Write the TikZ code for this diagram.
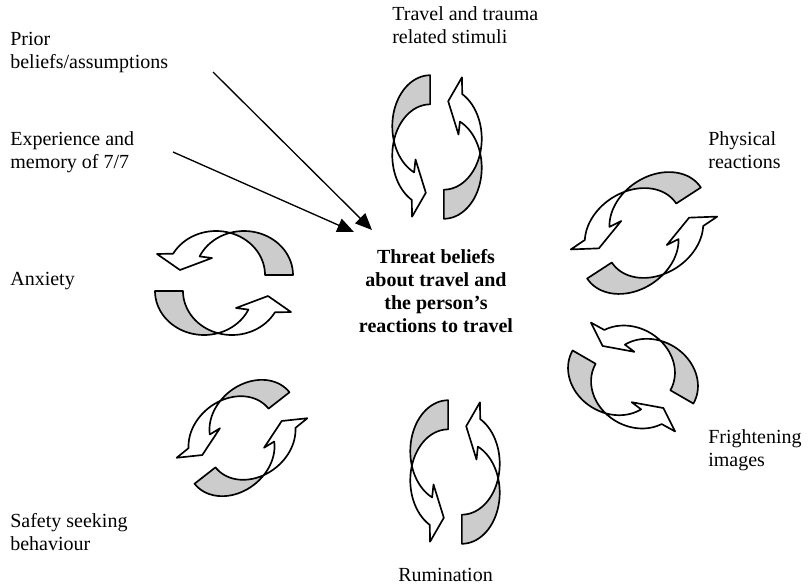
\documentclass[tikz,border=0pt]{standalone}
\usepackage{fontspec}
\setmainfont{Liberation Serif}
\usepackage{tikz}
\usetikzlibrary{arrows.meta,calc,positioning}

\tikzset{
  backface/.style={fill=black!20,draw=black,line width=1pt,line join=round},
  frontface/.style={fill=white,draw=black,line width=1pt,line join=round},
  lbl/.style={anchor=north west,inner sep=0pt,align=left,font=\fontsize{12}{13.8}\selectfont},
  conn/.style={-{Triangle[length=10pt,width=8.5pt]},line width=0.8pt},
  loopicon/.pic={
    \foreach \r in {0,180}{
      \begin{scope}[rotate=\r]
        \draw[backface] plot[smooth,domain=0:73.4,variable=\t] ({-8+49*cos(\t)},{-8-44*sin(\t)})
          -- plot[smooth,domain=106.6:0,variable=\t] ({20+49*cos(\t)},{-8-44*sin(\t)}) -- cycle;
        \draw[frontface] plot[smooth,domain=73.4:151,variable=\t] ({-8+49*cos(\t)},{-8-44*sin(\t)})
          -- (-67,-29) -- (-44,-13) -- (-12,-25)
          -- plot[smooth,domain=155:106.6,variable=\t] ({20+49*cos(\t)},{-8-44*sin(\t)}) -- cycle;
      \end{scope}
    }
  }
}

\begin{document}
\begin{tikzpicture}[x=0.6pt,y=-0.6pt]
\useasboundingbox (0,0) rectangle (809,587);
\node[lbl] (prior) at (10,29) {\strut Prior\\beliefs/assumptions};
\node[lbl] (experience) at (10,129) {\strut Experience and\\memory of 7/7};
\node[lbl] (anxiety) at (10,269) {\strut Anxiety};
\node[lbl] (safety) at (10,511) {\strut Safety seeking\\behaviour};
\node[lbl] (travel) at (392,4) {\strut Travel and trauma\\related stimuli};
\node[lbl] (physical) at (708,129) {\strut Physical\\reactions};
\node[lbl] (frightening) at (708,427) {\strut Frightening\\images};
\node[lbl] (rumination) at (398,565) {\strut Rumination};
\node[lbl,anchor=north,align=center,font=\fontsize{12}{13.8}\selectfont\bfseries] (threat) at (436,247)
  {\strut Threat beliefs\\about travel and\\the person’s\\reactions to travel};
\pic[rotate=0] at (224,283) {loopicon};
\pic[rotate=90,xscale=1.04,yscale=0.86] at (437,147) {loopicon};
\pic[rotate=90,xscale=1.04,yscale=0.86] at (455,472) {loopicon};
\pic[rotate=33,xscale=1.05,yscale=0.9] at (644,233) {loopicon};
\pic[rotate=-30,xscale=0.95,yscale=0.9] at (633,377) {loopicon};
\pic[rotate=38,xscale=0.95,yscale=0.85] at (242,438) {loopicon};
\coordinate (priorout) at (213,72);
\coordinate (tipA) at (372,230);
\coordinate (expout) at (173,152);
\coordinate (tipB) at (354,232);
\draw[conn] (priorout) -- (tipA);
\draw[conn] (expout) -- (tipB);
\end{tikzpicture}
\end{document}
